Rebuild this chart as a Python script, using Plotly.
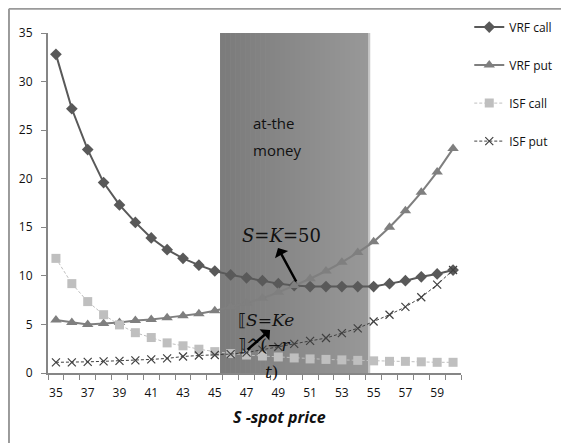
import plotly.graph_objects as go

spot = list(range(35, 61))
vrf_call = [32.8, 27.2, 23.0, 19.6, 17.3, 15.5, 13.9, 12.7, 11.8, 11.1, 10.5, 10.1, 9.8, 9.5, 9.2,
            9.0, 8.9, 8.9, 8.9, 8.9, 8.9, 9.2, 9.5, 9.9, 10.2, 10.6]
vrf_put = [5.45, 5.2, 5.0, 5.1, 5.2, 5.4, 5.5, 5.7, 5.9, 6.1, 6.4, 6.8, 7.2, 7.7, 8.3,
           9.0, 9.7, 10.5, 11.4, 12.4, 13.5, 15.0, 16.7, 18.6, 20.7, 23.1]
isf_call = [11.8, 9.2, 7.35, 6.0, 4.95, 4.15, 3.65, 3.1, 2.8, 2.45, 2.2, 2.0, 1.85, 1.75, 1.65,
            1.55, 1.45, 1.4, 1.35, 1.3, 1.25, 1.2, 1.2, 1.15, 1.1, 1.1]
isf_put = [1.1, 1.1, 1.15, 1.2, 1.25, 1.3, 1.4, 1.5, 1.7, 1.8, 1.85, 1.95, 2.1, 2.4, 2.7,
           3.0, 3.3, 3.6, 4.1, 4.6, 5.3, 6.0, 6.8, 7.8, 9.1, 10.6]
x_ticks = list(range(35, 60, 2))
y_ticks = list(range(0, 36, 5))
atm_band = (45.33, 54.77)

FONT = "Open Sans"

fig = go.Figure()
fig.add_trace(go.Scatter(x=spot, y=vrf_call, name="VRF call", mode="lines+markers", legendgroup="a",
                         line=dict(color="#595959", width=2),
                         marker=dict(symbol="diamond", size=9, color="#595959")))
fig.add_trace(go.Scatter(x=spot, y=vrf_put, name="VRF put", mode="lines+markers", legendgroup="b",
                         line=dict(color="#7f7f7f", width=2),
                         marker=dict(symbol="triangle-up", size=10, color="#7f7f7f")))
fig.add_trace(go.Scatter(x=spot, y=isf_call, name="ISF call", mode="lines+markers", legendgroup="c",
                         line=dict(color="#bfbfbf", width=1, dash="3px,2px"),
                         marker=dict(symbol="square", size=9, color="#bfbfbf")))
fig.add_trace(go.Scatter(x=spot, y=isf_put, name="ISF put", mode="lines+markers", legendgroup="d",
                         line=dict(color="#404040", width=1, dash="3px,2px"),
                         marker=dict(symbol="x-thin", size=8, color="#404040",
                                     line=dict(color="#404040", width=1.2))))

shapes = []
n = 30
x0, x1 = atm_band
w = (x1 - x0) / n
for i in range(n):
    c = int(124 + (152 - 124) * i / (n - 1))
    shapes.append(dict(type="rect", xref="x", yref="y", x0=x0 + i * w, x1=x0 + (i + 1) * w + 0.01,
                       y0=0, y1=35, fillcolor=f"rgb({c},{c},{c})", line=dict(width=0), layer="below"))
shapes.append(dict(type="rect", xref="x", yref="y", x0=x1 - 0.12, x1=x1, y0=0, y1=35,
                   fillcolor="rgb(200,200,200)", line=dict(width=0), layer="below"))

# outer frame lines (figure edge)
shapes += [
    dict(type="line", xref="paper", yref="paper", x0=-0.0945, x1=1.27, y0=1.0715, y1=1.0715,
         line=dict(color="#9a9a9a", width=2)),
    dict(type="line", xref="paper", yref="paper", x0=-0.0945, x1=-0.0945, y0=1.0715, y1=-0.25,
         line=dict(color="#9a9a9a", width=2)),
]

annotations = [
    dict(x=47.28, y=25.7, xref="x", yref="y", text="at-the", showarrow=False, xanchor="left",
         font=dict(family=FONT, size=15, color="#111")),
    dict(x=47.28, y=22.96, xref="x", yref="y", text="money", showarrow=False, xanchor="left",
         font=dict(family=FONT, size=15, color="#111")),
    dict(x=49.17, y=14.2, xref="x", yref="y", text="<i>S</i>=<i>K</i>=50", showarrow=False,
         font=dict(family="DejaVu Serif", size=18, color="#111")),
    dict(x=48.98, y=12.87, xref="x", yref="y", text="", showarrow=True, ax=19, ay=35,
         arrowhead=1, arrowsize=1, arrowwidth=2.5, arrowcolor="#000"),
    dict(x=46.33, y=5.46, xref="x", yref="y", text="⟦<i>S</i>=<i>Ke</i>", showarrow=False,
         xanchor="left", font=dict(family="DejaVu Serif", size=17, color="#111")),
    dict(x=46.33, y=2.88, xref="x", yref="y", text="⟧^(−<i>r</i>", showarrow=False,
         xanchor="left", font=dict(family="DejaVu Serif", size=17, color="#111")),
    dict(x=48.03, y=0.1, xref="x", yref="y", text="<i>t</i>)", showarrow=False,
         xanchor="left", font=dict(family="DejaVu Serif", size=17, color="#111")),
    dict(x=48.48, y=4.43, xref="x", yref="y", text="", showarrow=True, ax=-24, ay=21,
         arrowhead=1, arrowsize=1, arrowwidth=2.5, arrowcolor="#000"),
    dict(x=49.1, y=-0.128, xref="x", yref="paper", yanchor="middle", text="<b><i>S -spot price</i></b>",
         showarrow=False, font=dict(family=FONT, size=16, color="#111")),
]

fig.update_layout(
    width=561, height=435,
    margin=dict(l=40, r=108, t=25, b=70, autoexpand=False),
    paper_bgcolor="white", plot_bgcolor="white",
    font=dict(family=FONT, size=12, color="#111"),
    shapes=shapes, annotations=annotations,
    legend=dict(x=1.02, xanchor="left", y=1.06, yanchor="top", tracegroupgap=19,
                font=dict(family=FONT, size=12, color="#111"), bgcolor="rgba(0,0,0,0)"),
    xaxis=dict(range=[34.5, 60.5], tickvals=x_ticks, ticks="", showgrid=False, zeroline=False,
               showline=True, linecolor="#868686", linewidth=2, automargin=False,
               minor=dict(tick0=34.5, dtick=1, ticks="outside", ticklen=5, tickcolor="#868686",
                          tickwidth=1, showgrid=False),
               ticklabelstandoff=8, tickfont=dict(size=12)),
    yaxis=dict(range=[0, 35], tickvals=y_ticks, ticks="outside", ticklen=5, tickcolor="#868686",
               tickwidth=1, showgrid=False, zeroline=False, showline=True, linecolor="#868686",
               linewidth=2, ticklabelstandoff=6, tickfont=dict(size=12), automargin=False),
)

fig.write_html("out.html")
